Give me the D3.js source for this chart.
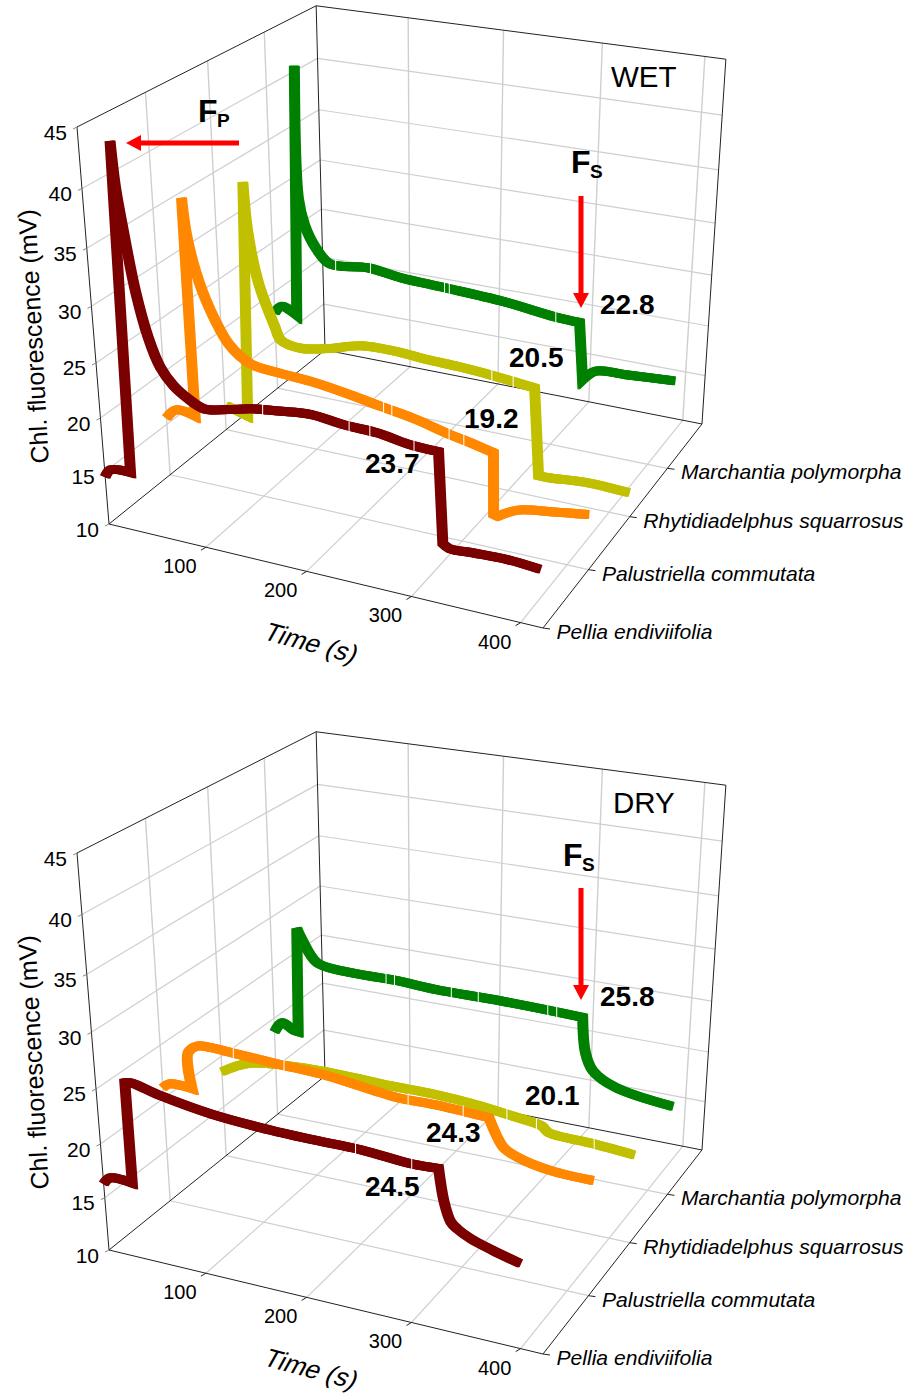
<!DOCTYPE html><html><head><meta charset="utf-8"><style>html,body{margin:0;background:#fff}svg{display:block}text{font-family:"Liberation Sans",Arial,sans-serif;fill:#000}</style></head><body>
<script src="https://cdn.jsdelivr.net/npm/d3@7"></script>
<script>
// ---------- data ----------
const species=["Pellia endiviifolia","Palustriella commutata","Rhytidiadelphus squarrosus","Marchantia polymorpha"];
const colors=["#7b0000","#ff8800","#c0c000","#008000"];
const timeTicks=[100,200,300,400];
const fluorTicks=[10,15,20,25,30,35,40,45];

const wetPelliaT=[0,6,27,31,33,37,45.5,55,65,77,91,106,130,152,178,209,240,271,298,325,329,335,357,387,416];
const wetPelliaV=[14.5,15.3,15.5,44.3,40.6,37.5,32,28.2,25.8,24.4,23.5,22.9,23.3,23.8,24.1,24.4,24.1,24,23.6,23.5,15.5,15.2,15.3,15.4,15.2];
const wetPelliaCorners=[2,3,19,20];
const wetPelliaGaps=[163,244,263,303];
const wetPalusT=[0,11,31,30,33,41,53,71,92,119,153,192,222,254,289,301,329,330,334,353,383,418];
const wetPalusV=[15.6,16.6,16.4,36.4,33.2,29.8,26.8,23.9,22.5,22.2,22,21.5,21,20.5,19.7,19.5,18.9,13.2,13.1,14.1,14.6,15.1];
const wetPalusCorners=[2,3,16,17,18];
const wetPalusGaps=[224,232,287,301];
const wetRhytT=[2,25,31,34,43,59,65,86,115,150,184,219,249,282,324,330,340,375,418];
const wetRhytV=[12.5,11.9,34.6,30,25.4,21.4,20.2,19.8,20.3,21.2,21.3,21.1,21,20.8,20.4,12.1,12.1,12.4,12.3];
const wetRhytCorners=[1,2,14,15];
const wetRhytGaps=[282,303];
const wetMarchT=[0,8,25,31,31,37,49,64,105,141,187,247,302,326,331,344,374,422];
const wetMarchV=[17.9,18.7,18.1,42.3,29.8,27.3,25.2,23.9,24.2,23.8,23.6,23.3,22.7,22.6,17.1,18.2,18.4,18.7];
const wetMarchCorners=[2,3,13,14];
const wetMarchGaps=[70,108,187,192,302];

const dryPelliaT=[0,7,30,30,36,65,114,162,209,255,301,325,330,336,342,354,374,398];
const dryPelliaV=[16.3,17,17,26.1,26.2,25.6,24.9,24.6,24.5,24.5,24.2,24.3,21.5,19.9,19.4,18.8,18.2,17.6];
const dryPelliaCorners=[2,3,11];
const dryPelliaGaps=[250,301];
const dryPalusT=[0,7,31,29,39,52,76,121,171,235,273,305,324,331,338,351,382,420];
const dryPalusV=[21,21.5,21.5,24.8,25.6,25.7,25.6,25.4,25.2,24.5,24.5,24.4,24.3,22.9,21.9,21.3,20.7,20.6];
const dryPalusCorners=[2,12];
const dryPalusGaps=[76,127,248,300];
const dryRhytT=[0,31,97,184,225,265,302,331,338,379,420];
const dryRhytV=[18.5,19.9,20.5,20.4,20.4,20.2,19.8,19.4,18.9,18.7,18.4];
const dryRhytCorners=[];
const dryRhytGaps=[297,326,382];
const dryMarchT=[0,9,21,27,29,35,50,79,134,177,247,328,332,340,363,420];
const dryMarchV=[18.6,19.7,19.2,19.1,29.4,28.3,26.4,26,26,25.8,25.8,25.6,22.3,20.7,19.5,18.7];
const dryMarchCorners=[3,4,11];
const dryMarchGaps=[125,134,194,222,293,302];

const wetSeries=[[wetPelliaT,wetPelliaV,wetPelliaCorners,wetPelliaGaps],[wetPalusT,wetPalusV,wetPalusCorners,wetPalusGaps],[wetRhytT,wetRhytV,wetRhytCorners,wetRhytGaps],[wetMarchT,wetMarchV,wetMarchCorners,wetMarchGaps]];
const drySeries=[[dryPelliaT,dryPelliaV,dryPelliaCorners,dryPelliaGaps],[dryPalusT,dryPalusV,dryPalusCorners,dryPalusGaps],[dryRhytT,dryRhytV,dryRhytCorners,dryRhytGaps],[dryMarchT,dryMarchV,dryMarchCorners,dryMarchGaps]];

// ---------- scales and perspective ----------
const tS=d3.scaleLinear().domain([0,420]).range([0,1]);
const sS=d3.scaleLinear().domain([0,4]).range([0,1]);
const zS=d3.scaleLinear().domain([10,45]).range([0,1]);
const P0=[109,524],PU=[543,628],PV=[325,350],PZ=[77,127],wU=.92,wV=1.185,wZ=.91;
function proj(t,s,z){
  const u=tS(t),v=sS(s),w=zS(z),d=1+(wU-1)*u+(wV-1)*v+(wZ-1)*w;
  const c=i=>(P0[i]+(wU*PU[i]-P0[i])*u+(wV*PV[i]-P0[i])*v+(wZ*PZ[i]-P0[i])*w)/d;
  return [c(0),c(1)];
}
const T0=0,T1=420,S1=4,Z0=10,Z1=45;

const svg=d3.select("body").append("svg").attr("width",913).attr("height",1397);
function seg(g,a,b,stroke,sw){return g.append("line").attr("x1",a[0]).attr("y1",a[1]).attr("x2",b[0]).attr("y2",b[1]).attr("stroke",stroke).attr("stroke-width",sw);}

const smooth=d3.line().curve(d3.curveCatmullRom.alpha(0.5));
function curvePath(pts,corners){
  const cuts=[0,...corners,pts.length-1];let d="";
  for(let i=0;i<cuts.length-1;i++){
    const part=smooth(pts.slice(cuts[i],cuts[i+1]+1));
    d+=i===0?part:part.replace(/^M[^A-Za-z]*/,"");
  }
  return d;
}
function valueAt(ts,vs,t){
  let k=ts.length-2;while(k>0&&ts[k]>t)k--;
  return d3.scaleLinear().domain([ts[k],ts[k+1]]).range([vs[k],vs[k+1]])(t);
}

function panel(dy,series,title,titleX,notes,fs,showFp){
  const g=svg.append("g").attr("transform",`translate(0,${dy})`);
  const grid="#cfcfcf";
  timeTicks.forEach(t=>{seg(g,proj(t,0,Z0),proj(t,S1,Z0),grid,1.2);seg(g,proj(t,S1,Z0),proj(t,S1,Z1),grid,1.4);});
  [1,2,3].forEach(s=>{seg(g,proj(T0,s,Z0),proj(T1,s,Z0),grid,1.2);seg(g,proj(T0,s,Z0),proj(T0,s,Z1),grid,1.4);});
  fluorTicks.slice(1,-1).forEach(z=>{seg(g,proj(T0,0,z),proj(T0,S1,z),grid,1.2);seg(g,proj(T0,S1,z),proj(T1,S1,z),grid,1.2);});
  const fr="#222";
  [[[T0,0,Z0],[T1,0,Z0]],[[T1,0,Z0],[T1,S1,Z0]],[[T1,S1,Z0],[T0,S1,Z0]],[[T0,S1,Z0],[T0,0,Z0]],
   [[T0,0,Z0],[T0,0,Z1]],[[T0,0,Z1],[T0,S1,Z1]],[[T0,S1,Z1],[T1,S1,Z1]],[[T1,S1,Z1],[T1,S1,Z0]],[[T0,S1,Z1],[T0,S1,Z0]]]
   .forEach(([a,b])=>seg(g,proj(...a),proj(...b),fr,1));
  timeTicks.forEach(t=>{const p=proj(t,0,Z0);seg(g,p,[p[0]-5,p[1]+3],fr,1);
    g.append("text").attr("x",p[0]-26).attr("y",p[1]+26).attr("text-anchor","middle").attr("font-size",20).text(t);});
  species.forEach((n,s)=>{const p=proj(T1,s,Z0);seg(g,p,[p[0]+7,p[1]+1],fr,1);
    g.append("text").attr("x",p[0]+13.5).attr("y",p[1]+11).attr("font-size",21.1).attr("font-style","italic").text(n);});
  fluorTicks.forEach(z=>{const p=proj(T0,0,z);seg(g,p,[p[0]-4,p[1]+2],"#888",1);
    g.append("text").attr("x",p[0]-10).attr("y",p[1]+12.5).attr("text-anchor","end").attr("font-size",21).text(z);});
  g.append("text").attr("transform","translate(42,336) rotate(-93)").attr("text-anchor","middle").attr("font-size",25).text("Chl. fluorescence (mV)");
  g.append("text").attr("transform","translate(307,651) rotate(15) skewX(-14)").attr("text-anchor","middle").attr("font-size",26).text("Time (s)");
  d3.range(3,-1,-1).forEach(i=>{
    const [ts,vs,cs,gaps]=series[i];const pts=ts.map((t,k)=>proj(t,i,vs[k]));
    const d=curvePath(pts,cs);
    [-1,0,1].forEach(off=>g.append("path").attr("d",d).attr("transform",`translate(${off},0)`)
      .attr("fill","none").attr("stroke",colors[i]).attr("stroke-width",9).attr("stroke-linejoin","miter").attr("stroke-miterlimit",3));
    gaps.forEach(t=>{const p=proj(t,i,valueAt(ts,vs,t));seg(g,[p[0],p[1]-6],[p[0],p[1]+6],"#fff",1);});
  });
  g.append("text").attr("x",titleX).attr("y",87).attr("font-size",29.5).text(title);
  notes.forEach(([txt,x,y])=>g.append("text").attr("x",x).attr("y",y).attr("font-size",28).attr("font-weight","bold").text(txt));
  const letter=(x,y,b)=>{g.append("text").attr("x",x).attr("y",y).attr("font-size",32).attr("font-weight","bold").text("F");
    g.append("text").attr("x",x+19).attr("y",y+5).attr("font-size",19).attr("font-weight","bold").text(b);};
  letter(fs[0],fs[1],"S");
  g.append("path").attr("fill","#f00").attr("d",`M578.5,${fs[2]}H583.5V${fs[3]-15}H589L581,${fs[3]}L573,${fs[3]-15}H578.5Z`);
  if(showFp){letter(198,122,"P");
    g.append("path").attr("fill","#f00").attr("d","M239,140.5V145.5H141V151L126,143L141,135V140.5Z");}
}
panel(0,wetSeries,"WET",611,[["22.8",600,314],["20.5",509,367],["19.2",464,428],["23.7",365,473]],[571,173,196,308],true);
panel(726,drySeries,"DRY",613,[["25.8",600,280],["20.1",525,379],["24.3",426,416],["24.5",365,470]],[563,140,162,274],false);
</script></body></html>
